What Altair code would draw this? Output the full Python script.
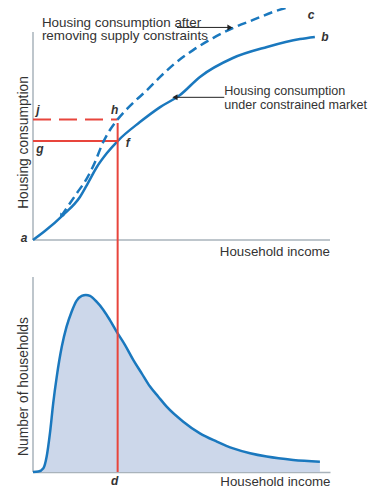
import altair as alt
import pandas as pd

# ---------------- data ----------------
# household income on a 0-100 scale
solid_x = [0, 4.0, 10.1, 15.8, 18.5, 21.5, 24.9, 28.5, 36.0, 42.8, 49.5, 56.2, 67.3, 78.8, 89.9, 94.9]
solid_y = [0, 4.3, 12.0, 20.7, 27.4, 35.1, 41.8, 47.6, 56.7, 63.9, 69.7, 78.4, 87.5, 92.8, 96.6, 97.6]

dashed_x = [9.5, 14.8, 18.2, 20.9, 23.2, 25.9, 28.5, 33.7, 38.4, 42.8, 47.1, 53.9, 60.6, 67.3, 74.1, 80.8, 89.9]
dashed_y = [11.5, 22.6, 29.8, 37.5, 45.7, 52.9, 58.0, 65.9, 72.1, 78.4, 84.1, 91.3, 97.1, 101.9, 105.8, 109.6, 113.5]

dist_x = [0, 1.8, 3.5, 4.6, 5.7, 6.8, 8.0, 9.7, 11.3, 13.0, 14.7, 16.4, 17.8, 19.2, 21.4, 23.7, 25.9,
          28.2, 31.0, 33.8, 36.6, 39.4, 42.2, 45.0, 50.6, 56.2, 61.9, 67.4, 73.1, 78.7, 87.6, 96.6]
dist_y = [0, 0.2, 1.9, 7.9, 19.8, 35.2, 48.9, 64.3, 74.5, 82.2, 87.9, 90.3, 90.8, 90.3, 87.3, 83.1, 77.9,
          71.9, 65.1, 57.4, 50.6, 43.8, 38.6, 33.5, 25.8, 19.8, 15.6, 12.1, 9.6, 7.9, 6.2, 5.3]

d_income = 28.5      # income level d
f_level = 47.6       # housing at f / g (constrained)
h_level = 58.0       # housing at h / j (unconstrained)

note1 = "Housing consumption after\nremoving supply constraints"
note1_pos = (3.0, 102.5)
arrow1 = (48.5, 66.3, 102.2)
note2 = "Housing consumption\nunder constrained market"
note2_pos = (64.4, 69.7)
arrow2 = (64.4, 47.8, 68.6)

# letter labels: (text, x, y, dx, dy)
top_letters = [
    ("a", 0, 0, -9, -2),
    ("j", 0, h_level, 5, -9),
    ("h", d_income, h_level, -3, -9),
    ("g", 0, f_level, 7, 8),
    ("f", d_income, f_level, 10, 2),
    ("c", dashed_x[-1], dashed_y[-1], 11, 11),
    ("b", solid_x[-1], solid_y[-1], 10, 0),
]
bot_letters = [("d", d_income, 0, -3, 9)]

# ---------------- layout / style ----------------
# one plot area holds both panels; each panel has its own y scale
PLOT_W, PLOT_H = 297, 440
TOP_DOMAIN = [-111.5, 100]    # housing 0..100 fills the upper 208 px
BOT_DOMAIN = [0, 225.6]       # households 0..100 fills the lower 195 px

FONT = "Liberation Sans"
BLUE = "#1a78be"
RED = "#e8453c"
FILL = "#ccd7ea"
AXIS = "#a9b3bb"
TEXT = "#333333"

xs = alt.Scale(domain=[0, 100], nice=False, zero=False)
ys_top = alt.Scale(domain=TOP_DOMAIN, nice=False, zero=False)
ys_bot = alt.Scale(domain=BOT_DOMAIN, nice=False, zero=False)

common = dict(labels=False, ticks=False, grid=False, titleFont=FONT,
              titleFontWeight="normal", titleColor=TEXT)

x_axis = alt.Axis(title="Household income", titleAnchor="end", domainColor=AXIS, domainWidth=1.5,
                  titlePadding=2, titleFontSize=13.3, **common)
top_y_axis = alt.Axis(title="Housing consumption", orient="left", domain=False,
                      titlePadding=3, titleY=110, titleFontSize=13.8, **common)
bot_y_axis = alt.Axis(title="Number of households", orient="left", domain=False,
                      titlePadding=3, titleY=354, titleFontSize=13.8, **common)


def X(f):
    return alt.X(f, type="quantitative", scale=xs, axis=x_axis)


def ty(f):
    return alt.Y(f, type="quantitative", scale=ys_top, axis=top_y_axis)


def by(f):
    return alt.Y(f, type="quantitative", scale=ys_bot, axis=bot_y_axis)


# ---------------- upper panel ----------------
solid_df = pd.DataFrame({"x": solid_x, "y": solid_y})
dashed_df = pd.DataFrame({"x": dashed_x, "y": dashed_y})

top_axes_df = pd.DataFrame({"x": [0, 0], "x2": [0, 100], "y": [0, 0], "y2": [100, 0]})
top_axes = alt.Chart(top_axes_df).mark_rule(color=AXIS, strokeWidth=1.5).encode(
    x=X("x"), x2="x2", y=ty("y"), y2="y2")
top_xtitle = alt.Chart(pd.DataFrame({"x": [100], "y": [0], "t": ["Household income"]})).mark_text(
    font=FONT, fontSize=13.3, color=TEXT, align="right", baseline="top", dy=5).encode(
    x=X("x"), y=ty("y"), text="t:N")

solid_line = alt.Chart(solid_df).mark_line(color=BLUE, strokeWidth=2.5, interpolate="monotone").encode(
    x=X("x"), y=ty("y"))
dashed_line = alt.Chart(dashed_df).mark_line(color=BLUE, strokeWidth=2.5, strokeDash=[9, 5],
                                             interpolate="monotone").encode(x=X("x"), y=ty("y"))

start_df = pd.DataFrame({"x": [dashed_x[0]], "y": [dashed_y[0]]})
dash_head = alt.Chart(start_df).mark_point(shape="triangle-up", filled=True, color=BLUE, size=30,
                                           angle=215, opacity=1).encode(x=X("x"), y=ty("y"))

hdash_df = pd.DataFrame({"x": [0], "x2": [d_income], "y": [h_level]})
hsolid_df = pd.DataFrame({"x": [0], "x2": [d_income], "y": [f_level]})
red_h_dash = alt.Chart(hdash_df).mark_rule(color=RED, strokeWidth=2, strokeDash=[18, 8]).encode(
    x=X("x"), x2="x2", y=ty("y"))
red_h_solid = alt.Chart(hsolid_df).mark_rule(color=RED, strokeWidth=2).encode(
    x=X("x"), x2="x2", y=ty("y"))

vdash_df = pd.DataFrame({"x": [d_income], "y": [f_level], "y2": [h_level]})
red_v_dash = alt.Chart(vdash_df).mark_rule(color=RED, strokeWidth=2, strokeDash=[18, 8]).encode(
    x=X("x"), y=ty("y"), y2="y2")

# vertical line d: from the lower income axis (bottom of the plot) up to f
d_line_df = pd.DataFrame({"x": [d_income], "y": [TOP_DOMAIN[0]], "y2": [f_level]})
red_d = alt.Chart(d_line_df).mark_rule(color=RED, strokeWidth=2).encode(
    x=X("x"), y=ty("y"), y2="y2")

notes1_df = pd.DataFrame({"x": [note1_pos[0]], "y": [note1_pos[1]], "t": [note1]})
notes1 = alt.Chart(notes1_df).mark_text(font=FONT, fontSize=13.4, color=TEXT, align="left",
                                        baseline="alphabetic", lineBreak="\n", lineHeight=13.5).encode(
    x=X("x"), y=ty("y"), text="t:N")
notes2_df = pd.DataFrame({"x": [note2_pos[0]], "y": [note2_pos[1]], "t": [note2]})
notes2 = alt.Chart(notes2_df).mark_text(font=FONT, fontSize=12.6, color=TEXT, align="left",
                                        baseline="alphabetic", lineBreak="\n", lineHeight=13.5).encode(
    x=X("x"), y=ty("y"), text="t:N")

arrows_df = pd.DataFrame({"x": [arrow1[0], arrow2[0]], "x2": [arrow1[1], arrow2[1]],
                          "y": [arrow1[2], arrow2[2]]})
arrow_lines = alt.Chart(arrows_df).mark_rule(color="#222222", strokeWidth=1).encode(
    x=X("x"), x2="x2", y=ty("y"))
head1 = alt.Chart(pd.DataFrame({"x": [arrow1[1]], "y": [arrow1[2]]})).mark_point(
    shape="triangle-right", filled=True, color="#222222", size=35, opacity=1).encode(x=X("x"), y=ty("y"))
head2 = alt.Chart(pd.DataFrame({"x": [arrow2[1]], "y": [arrow2[2]]})).mark_point(
    shape="triangle-left", filled=True, color="#222222", size=35, opacity=1).encode(x=X("x"), y=ty("y"))

top_layers = [top_axes, top_xtitle, solid_line, red_h_dash, red_h_solid, red_v_dash, red_d, dashed_line,
              dash_head, notes1, notes2, arrow_lines, head1, head2]
for t, lx, ly, dx, dy in top_letters:
    top_layers.append(
        alt.Chart(pd.DataFrame({"x": [lx], "y": [ly], "t": [t]})).mark_text(
            font=FONT, fontSize=12, fontWeight="bold", fontStyle="italic", color=TEXT,
            align="center", baseline="middle", dx=dx, dy=dy).encode(x=X("x"), y=ty("y"), text="t:N"))

upper = alt.layer(*top_layers)

# ---------------- lower panel ----------------
dist_df = pd.DataFrame({"x": dist_x, "y": dist_y})

area = alt.Chart(dist_df).mark_area(color=FILL, opacity=1, interpolate="monotone").encode(
    x=X("x"), y=by("y"))
dist_line = alt.Chart(dist_df).mark_line(color=BLUE, strokeWidth=2.5, interpolate="monotone").encode(
    x=X("x"), y=by("y"))

bot_axis_df = pd.DataFrame({"x": [0], "y": [0], "y2": [100]})
bot_axis_line = alt.Chart(bot_axis_df).mark_rule(color=AXIS, strokeWidth=1.5).encode(
    x=X("x"), y=by("y"), y2="y2")

bot_layers = [area, bot_axis_line, dist_line]
for t, lx, ly, dx, dy in bot_letters:
    bot_layers.append(
        alt.Chart(pd.DataFrame({"x": [lx], "y": [ly], "t": [t]})).mark_text(
            font=FONT, fontSize=12, fontWeight="bold", fontStyle="italic", color=TEXT,
            align="center", baseline="middle", dx=dx, dy=dy).encode(x=X("x"), y=by("y"), text="t:N"))

lower = alt.layer(*bot_layers)

chart = alt.layer(lower, upper).resolve_scale(y="independent").properties(
    width=PLOT_W, height=PLOT_H,
    autosize=alt.AutoSizeParams(type="none"),
    padding={"left": 25, "top": 24, "right": 38, "bottom": 15},
    background="white",
).configure_view(stroke=None)

chart.save("out.html", embed_options={"renderer": "svg", "actions": False})
